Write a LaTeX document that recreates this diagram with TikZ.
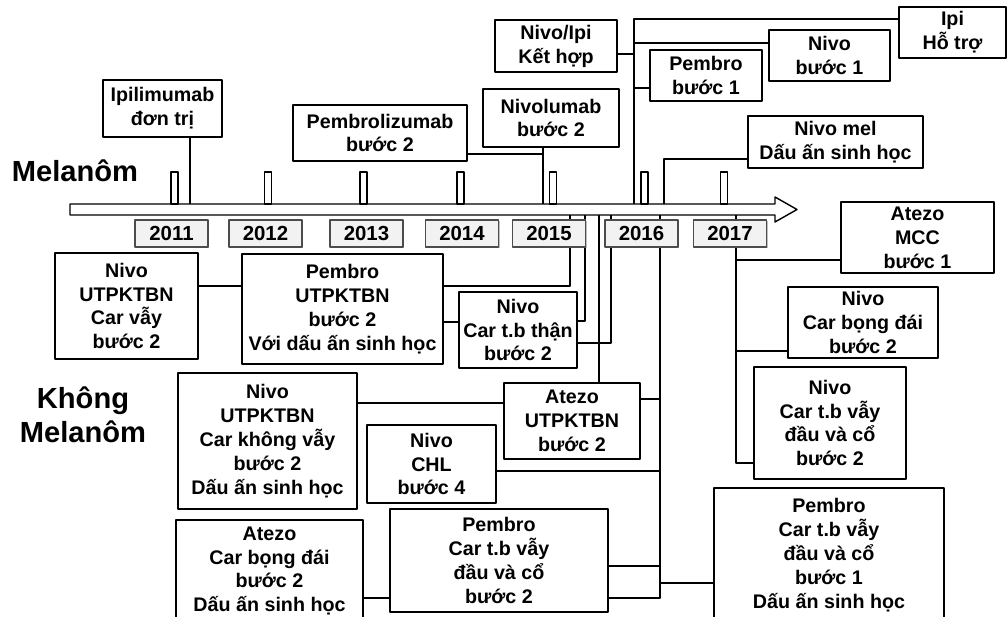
\documentclass[tikz,border=0pt]{standalone}
\usepackage{fontspec}
\setmainfont{Liberation Sans}
\usetikzlibrary{shadows}

\begin{document}
\begin{tikzpicture}[x=0.025cm, y=-0.025cm, line join=round,
	hop/.style={draw, line width=1pt, fill=white, inner sep=0pt, align=center,
		font=\fontsize{14}{17}\selectfont\bfseries},
	kh/.style args={#1/#2/#3/#4}{minimum width={(#3-#1)*0.025cm},
		minimum height={(#4-#2)*0.025cm}, at={({(#1+#3)/2},{(#2+#4)/2})}},
	nam/.style={draw=black!70, line width=0.8pt, fill=black!5, inner sep=0pt,
		minimum width=1.825cm, minimum height=0.675cm,
		font=\fontsize{14.5}{17}\selectfont\bfseries,
		drop shadow={shadow xshift=0.8pt, shadow yshift=-0.8pt, fill=black!50}},
	day/.style={line width=0.8pt},
	nhan/.style={font=\fontsize{20.7}{23.8}\selectfont\bfseries, align=center}]
	\useasboundingbox (0,0) rectangle (1008,617);
	\clip (0,0) rectangle (1008,617);
	
	% 1. Trục thời gian (mũi tên rỗng) và các vạch năm
	\draw[line width=1pt, fill=white] (70,204) -- (775,204) -- (775,197) -- (797,209.5)
		-- (775,222) -- (775,215) -- (70,215) -- cycle;
	\foreach \tx in {174.5,268,363.5,460.5,553,644.5,724}
		\draw[line width=0.8pt, fill=white] (\tx-3.5,172) rectangle (\tx+3.5,204);
	
	% Nhãn hai nhóm
	\node[nhan, anchor=base] (mel) at (75,182) {Melanôm};
	\node[nhan] (khong) at (83,415) {Không\\Melanôm};
	
	% Các điểm nối trên trục
	\coordinate (a11) at (190,204);
	\coordinate (a15) at (543,204);
	\coordinate (a16) at (634,204);
	\coordinate (a16b) at (664,204);
	\coordinate (dinh) at (634,19);
	% Các điểm nối dưới trục
	\coordinate (b1) at (570,215);
	\coordinate (b2) at (585,215);
	\coordinate (b3) at (599,215);
	\coordinate (b4) at (611,215);
	\coordinate (b5) at (660,215);
	\coordinate (b6) at (736,215);
	
	% 2. Các hộp Melanôm (phía trên trục)
	\node[hop, kh=103/80/222/137] (ipi) {Ipilimumab\\đơn trị};
	\node[hop, kh=293/105/467/161] (pembroz) {Pembrolizumab\\bước 2};
	\node[hop, kh=483/89/619/147] (nivolum) {Nivolumab\\bước 2};
	\node[hop, kh=495/20/617/72] (nivoipi) {Nivo/Ipi\\Kết hợp};
	\node[hop, kh=650/50/762/101] (pembro1) {Pembro\\bước 1};
	\node[hop, kh=769/30/890/81] (nivo1) {Nivo\\bước 1};
	\node[hop, kh=899/7/1006/58] (ipiht) {Ipi\\Hỗ trợ};
	\node[hop, kh=748/116/923/168] (nivomel) {Nivo mel\\Dấu ấn sinh học};
	
	% 3. Các hộp không Melanôm (phía dưới trục)
	\node[hop, kh=841/202/994/273] (atezomcc) {Atezo\\MCC\\bước 1};
	\node[hop, kh=55/253/198/359] (nivovay) {Nivo\\UTPKTBN\\Car vẫy\\bước 2};
	\node[hop, kh=242/254/443/364] (pembroutp) {Pembro\\UTPKTBN\\bước 2\\Với dấu ấn sinh học};
	\node[hop, kh=459/292/577/368] (nivothan) {Nivo\\Car t.b thận\\bước 2};
	\node[hop, kh=788/287/938/358] (nivobong) {Nivo\\Car bọng đái\\bước 2};
	\node[hop, kh=754/367/906/479] (nivodau) {Nivo\\Car t.b vẫy\\đầu và cổ\\bước 2};
	\node[hop, kh=178/373/357/509] (nivokhong) {Nivo\\UTPKTBN\\Car không vẫy\\bước 2\\Dấu ấn sinh học};
	\node[hop, kh=504/383/640/459] (atezoutp) {Atezo\\UTPKTBN\\bước 2};
	\node[hop, kh=367/425/496/503] (nivochl) {Nivo\\CHL\\bước 4};
	\node[hop, kh=176/520/363/622] (atezobong) {Atezo\\Car bọng đái\\bước 2\\Dấu ấn sinh học};
	\node[hop, kh=390/509/608/612] (pembrodau2) {Pembro\\Car t.b vẫy\\đầu và cổ\\bước 2};
	\node[hop, kh=714/488/944/622] (pembrodau1) {Pembro\\Car t.b vẫy\\đầu và cổ\\bước 1\\Dấu ấn sinh học};
	
	% 4. Đường nối phía trên trục
	\draw[day] (ipi.south -| a11) -- (a11);
	\draw[day] (nivolum.south -| a15) -- (a15);
	\draw[day] (pembroz.east |- 0,154) -| (a15);
	\draw[day] (ipiht.west |- dinh) -- (dinh) -- (a16);
	\draw[day] (nivo1.west |- 0,43) -| (a16);
	\draw[day] (nivoipi.east |- 0,54) -| (a16);
	\draw[day] (pembro1.west |- 0,88) -| (a16);
	\draw[day] (nivomel.west |- 0,159) -| (a16b);
	
	% Đường nối phía dưới trục
	\draw[day] (nivovay.east |- 0,286) -- (pembroutp.west |- 0,286);
	\draw[day] (pembroutp.east |- 0,286) -| (b1);
	\draw[day] (pembroutp.east |- 0,322) -- (nivothan.west |- 0,322);
	\draw[day] (nivothan.east |- 0,321) -| (b2);
	\draw[day] (atezoutp.north -| b3) -- (b3);
	\draw[day] (nivothan.east |- 0,343) -| (b4);
	\draw[day] (nivokhong.east |- 0,403) -- (atezoutp.west |- 0,403);
	\draw[day] (atezoutp.east |- 0,399) -| (b5);
	\draw[day] (nivochl.east |- 0,471) -| (b5);
	\draw[day] (pembrodau2.east |- 0,566) -| (b5);
	\draw[day] (pembrodau2.east |- 0,598) -| (b5);
	\draw[day] (pembrodau1.west |- 0,583) -| (b5);
	\draw[day] (atezobong.east |- 0,598) -- (pembrodau2.west |- 0,598);
	\draw[day] (atezomcc.west |- 0,260) -| (b6);
	\draw[day] (nivobong.west |- 0,351) -| (b6);
	\draw[day] (nivodau.west |- 0,463) -| (b6);
	
	% 5. Hộp năm (vẽ sau để che các đường nối)
	\foreach \yr/\cx in {2011/171.5,2012/265.5,2013/366.5,2014/462,2015/549,2016/641.5,2017/730}
		\node[nam] (y\yr) at (\cx,233.5) {\yr};
\end{tikzpicture}
\end{document}
